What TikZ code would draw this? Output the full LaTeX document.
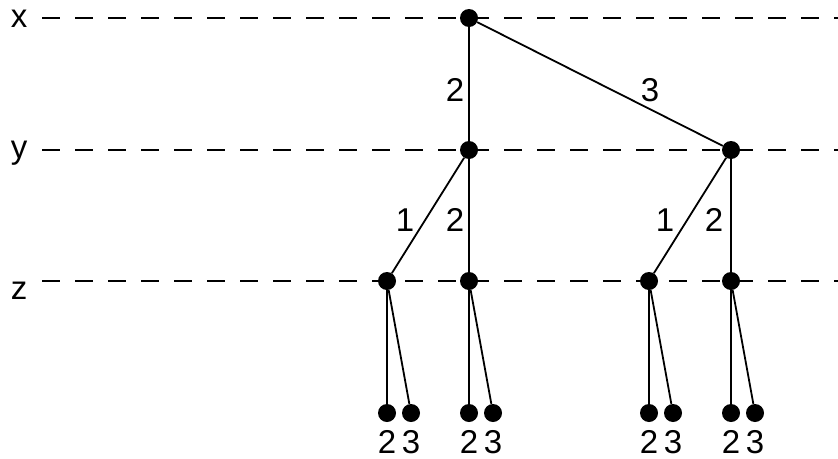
\documentclass[tikz,border=0pt]{standalone}
\usepackage{fontspec}
\setmainfont{Liberation Sans}
\usetikzlibrary{positioning}
\tikzset{
  dot/.style={circle,fill=black,inner sep=0pt,minimum size=18pt},
  levelline/.style={line width=2.5pt,dash pattern=on 18pt off 15pt},
  levellabel/.style={anchor=base,inner sep=0pt},
  edge/.style={line width=1.8pt},
  wt/.style={inner sep=0pt}
}
\begin{document}
\begin{tikzpicture}[x=1pt,y=-1pt,font=\fontsize{33pt}{40pt}\selectfont]
      \useasboundingbox (0,0) rectangle (838,458);
      % levels
      \node[levellabel] (lx) at (19,27) {x};
      \node[levellabel] (ly) at (19,158) {y};
      \node[levellabel] (lz) at (19,299) {z};
      \coordinate (ex) at (838,18);
      \coordinate (ey) at (838,150);
      \coordinate (ez) at (838,281);
      \draw[levelline] (42,18) -- (ex);
      \draw[levelline] (42,150) -- (ey);
      \draw[levelline] (42,281) -- (ez);
      % tree nodes
      \node[dot] (r) at (469,18) {};
      \node[dot] (a) at (469,150) {};
      \node[dot] (b) at (731,150) {};
      \node[dot] (a1) at (387,281) {};
      \node[dot] (a2) at (469,281) {};
      \node[dot] (b1) at (649,281) {};
      \node[dot] (b2) at (731,281) {};
      % leaves
      \foreach \p/\xx in {a1/387,a2/469,b1/649,b2/731}{
        \node[dot] (\p l) at (\xx,413) {};
        \node[dot] (\p r) at (\xx+24,413) {};
        \node[levellabel] at (\xx,453) {2};
        \node[levellabel] at (\xx+24,453) {3};
        \draw[edge] (\p) -- (\p l);
        \draw[edge] (\p) -- (\p r);
      }
      % weighted edges
      \draw[edge] (r) -- (a);
      \draw[edge] (r) -- (b);
      \draw[edge] (a) -- (a1);
      \draw[edge] (a) -- (a2);
      \draw[edge] (b) -- (b1);
      \draw[edge] (b) -- (b2);
      \node[wt] at (455,90) {2};
      \node[wt] at (650,90) {3};
      \node[wt] at (405,220) {1};
      \node[wt] at (455,220) {2};
      \node[wt] at (665,220) {1};
      \node[wt] at (714,220) {2};
    \end{tikzpicture}
\end{document}
